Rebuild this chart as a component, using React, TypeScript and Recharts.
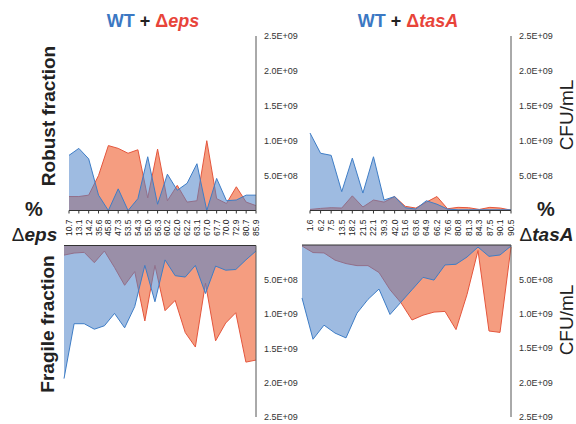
import { AreaChart, Area, XAxis, YAxis } from "recharts";

// % mutant in the co-culture (x categories)
const epsPct = ["10.7", "13.1", "14.2", "35.6", "45.8", "47.3", "53.5", "54.3", "55.0", "56.3", "60.2", "62.0", "62.2", "63.1", "67.0", "67.7", "70.0", "72.9", "80.7", "85.9"];
const tasAPct = ["1.6", "6.2", "7.5", "13.5", "18.2", "21.5", "22.1", "39.3", "42.0", "51.6", "63.6", "64.9", "66.2", "76.6", "80.8", "81.3", "84.3", "87.5", "90.1", "90.5"];

// CFU/mL, robust fraction
const epsRobustWT = [7.9e8, 8.9e8, 7.4e8, 2.2e8, 0, 3.1e8, 0, 1.7e8, 7.7e8, 0.9e8, 5.2e8, 2.9e8, 3.9e8, 6.7e8, 0, 4.6e8, 1.4e8, 1.5e8, 2.2e8, 2.2e8];
const epsRobustMut = [2.0e8, 2.0e8, 2.2e8, 5.0e8, 9.3e8, 8.9e8, 8.2e8, 8.7e8, 1.8e8, 8.8e8, 1.4e8, 3.6e8, 1.2e8, 1.4e8, 10.0e8, 1.7e8, 1.0e8, 3.4e8, 1.2e8, 0.7e8];
const tasARobustWT = [11.1e8, 8.2e8, 7.9e8, 2.7e8, 7.5e8, 2.5e8, 7.7e8, 1.5e8, 2.0e8, 0.4e8, 0.2e8, 1.4e8, 0.9e8, 0.2e8, 0.1e8, 0.1e8, 0.1e8, 0.1e8, 0.1e8, 0.1e8];
const tasARobustMut = [0.15e8, 0.3e8, 0.4e8, 0.35e8, 2.1e8, 0.5e8, 1.5e8, 1.2e8, 2.0e8, 0.6e8, 0.35e8, 1.2e8, 2.0e8, 0.25e8, 0.45e8, 0.4e8, 0.15e8, 0.45e8, 0.35e8, 0.05e8];

// CFU/mL, fragile fraction
const epsFragileWT = [19.4e8, 11.4e8, 11.4e8, 12.2e8, 11.7e8, 9.9e8, 12.0e8, 8.9e8, 2.9e8, 8.2e8, 2.1e8, 4.4e8, 4.6e8, 2.9e8, 7.0e8, 3.0e8, 3.6e8, 3.5e8, 2.1e8, 0.8e8];
const epsFragileMut = [1.4e8, 1.1e8, 1.0e8, 2.5e8, 0.8e8, 3.2e8, 5.8e8, 3.8e8, 11.0e8, 2.9e8, 9.5e8, 8.0e8, 12.7e8, 14.8e8, 5.5e8, 13.9e8, 11.3e8, 9.8e8, 17.0e8, 16.7e8];
const tasAFragileWT = [7.7e8, 13.7e8, 11.65e8, 12.8e8, 13.5e8, 9.9e8, 7.9e8, 6.4e8, 10.1e8, 8.3e8, 6.5e8, 4.7e8, 5.1e8, 2.9e8, 2.8e8, 1.75e8, 0.3e8, 1.65e8, 1.45e8, 0.15e8];
const tasAFragileMut = [0.15e8, 1.1e8, 1.15e8, 2.2e8, 2.7e8, 3.0e8, 3.0e8, 4.0e8, 6.5e8, 8.4e8, 10.9e8, 10.2e8, 9.75e8, 9.65e8, 12.3e8, 7.2e8, 0.8e8, 12.5e8, 12.7e8, 0.3e8];

const yTicks = [5e8, 1e9, 1.5e9, 2e9, 2.5e9];

const FONT = '"Liberation Sans", Arial, Helvetica, sans-serif';
const BLUE_LINE = "#3e7dc6";
const BLUE_FILL = "#4f84c8";
const RED_LINE = "#e4563d";
const RED_FILL = "#f59d80";
const AXIS = "#555";

const fmt = (v: number) => {
  const [m, e] = v.toExponential(1).split("e");
  return `${m}E${e[0]}${e.slice(1).padStart(2, "0")}`;
};

function CatTick({ x, y, payload }: any) {
  return (
    <text
      x={x}
      y={y}
      transform={`rotate(-90 ${x} ${y})`}
      textAnchor="end"
      dominantBaseline="central"
      fontSize={8.5}
      fill="#222"
      fontFamily={FONT}
    >
      {payload.value}
    </text>
  );
}

function Half({ cats, wt, mut, plotLeft, plotRight, plotTop, plotBottom, fragile }: any) {
  const data = cats.map((c: string, i: number) => ({ pct: c, wt: wt[i], mut: mut[i] }));
  const yW = 60;
  const xH = fragile ? 10 : 30;
  const margin = fragile
    ? { top: plotTop - xH, bottom: 424 - plotBottom, left: plotLeft, right: 576 - plotRight - yW }
    : { top: plotTop, bottom: 424 - plotBottom - xH, left: plotLeft, right: 576 - plotRight - yW };
  return (
    <div style={{ position: "absolute", left: 0, top: 0 }}>
      <AreaChart width={576} height={424} data={data} margin={margin}>
        <XAxis
          dataKey="pct"
          scale="point"
          interval={0}
          orientation={fragile ? "top" : "bottom"}
          height={xH}
          tickSize={3}
          tickMargin={6}
          tick={fragile ? false : <CatTick />}
          tickLine={{ stroke: "#333" }}
          axisLine={{ stroke: "#333" }}
        />
        <YAxis
          type="number"
          orientation="right"
          domain={[0, 2.5e9]}
          ticks={yTicks}
          reversed={fragile}
          width={yW}
          tickLine={false}
          tickSize={4}
          tickMargin={4}
          tickFormatter={fmt}
          tick={{ fontSize: 9, fill: "#333", fontFamily: FONT }}
          axisLine={{ stroke: AXIS }}
          allowDataOverflow
        />
        <Area
          type="linear"
          dataKey="mut"
          stroke={RED_LINE}
          strokeWidth={1}
          fill={RED_FILL}
          fillOpacity={1}
          dot={false}
          activeDot={false}
          isAnimationActive={false}
        />
        <Area
          type="linear"
          dataKey="wt"
          stroke={BLUE_LINE}
          strokeWidth={1}
          fill={BLUE_FILL}
          fillOpacity={0.55}
          dot={false}
          activeDot={false}
          isAnimationActive={false}
        />
      </AreaChart>
    </div>
  );
}

export default function App() {
  return (
    <div style={{ position: "absolute", left: 0, top: 0, width: 576, height: 424, background: "#fff", overflow: "hidden" }}>
      <Half cats={epsPct} wt={epsRobustWT} mut={epsRobustMut} plotLeft={69} plotRight={256} plotTop={36} plotBottom={210.5} />
      <Half cats={epsPct} wt={epsFragileWT} mut={epsFragileMut} plotLeft={64} plotRight={256} plotTop={245.5} plotBottom={417} fragile />
      <Half cats={tasAPct} wt={tasARobustWT} mut={tasARobustMut} plotLeft={310} plotRight={511} plotTop={36} plotBottom={210.5} />
      <Half cats={tasAPct} wt={tasAFragileWT} mut={tasAFragileMut} plotLeft={302} plotRight={511} plotTop={245} plotBottom={417} fragile />

      <svg width={576} height={424} style={{ position: "absolute", left: 0, top: 0, pointerEvents: "none" }} fontFamily={FONT}>
        <text x={153} y={27} textAnchor="middle" fontSize={18} fontWeight="bold">
          <tspan fill="#3b78c3">WT</tspan>
          <tspan fill="#222"> + </tspan>
          <tspan fill="#e8443a">Δ</tspan>
          <tspan fill="#e8443a" fontStyle="italic">eps</tspan>
        </text>
        <text x={408} y={27} textAnchor="middle" fontSize={18} fontWeight="bold">
          <tspan fill="#3b78c3">WT</tspan>
          <tspan fill="#222"> + </tspan>
          <tspan fill="#e8443a">Δ</tspan>
          <tspan fill="#e8443a" fontStyle="italic">tasA</tspan>
        </text>

        <text transform="translate(55,116) rotate(-90)" textAnchor="middle" fontSize={19} fontWeight="bold" fill="#222">
          Robust fraction
        </text>
        <text transform="translate(54,324) rotate(-90)" textAnchor="middle" fontSize={19} fontWeight="bold" fill="#222">
          Fragile fraction
        </text>
        <text transform="translate(573,115) rotate(-90)" textAnchor="middle" fontSize={19} fill="#222">
          CFU/mL
        </text>
        <text transform="translate(573,320) rotate(-90)" textAnchor="middle" fontSize={19} fill="#222">
          CFU/mL
        </text>

        <text x={34} y={216} textAnchor="middle" fontSize={20} fontWeight="bold" fill="#222">%</text>
        <text x={34.5} y={241} textAnchor="middle" fontSize={19} fill="#222">
          <tspan>Δ</tspan>
          <tspan fontWeight="bold" fontStyle="italic">eps</tspan>
        </text>
        <text x={546} y={216} textAnchor="middle" fontSize={20} fontWeight="bold" fill="#222">%</text>
        <text x={546.5} y={241} textAnchor="middle" fontSize={19} fill="#222">
          <tspan>Δ</tspan>
          <tspan fontWeight="bold" fontStyle="italic">tasA</tspan>
        </text>
      </svg>
    </div>
  );
}
